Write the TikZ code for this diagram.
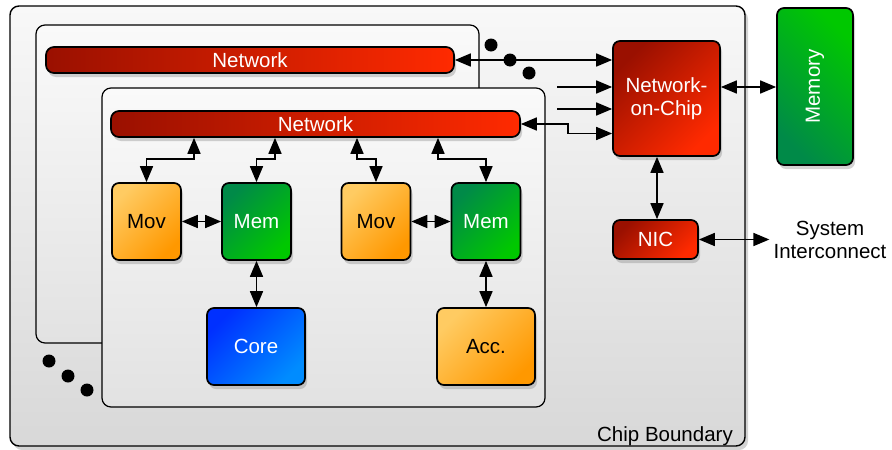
\documentclass[tikz,border=0pt]{standalone}
\usepackage{fontspec}
\setmainfont{Liberation Sans}
\usetikzlibrary{arrows.meta,shadows,calc}
\definecolor{netdark}{HTML}{9A1000}
\definecolor{netlight}{HTML}{FF2A00}
\definecolor{orgl}{HTML}{FFCB62}
\definecolor{orgd}{HTML}{FF9800}
\definecolor{grnd}{HTML}{008A48}
\definecolor{grnl}{HTML}{00C800}
\definecolor{blud}{HTML}{0030FF}
\definecolor{blul}{HTML}{008CFF}
\definecolor{chipt}{HTML}{F8F8F8}
\definecolor{chipb}{HTML}{D8D8D8}
\definecolor{tilet}{HTML}{FAFAFA}
\definecolor{tileb}{HTML}{E2E2E2}
\begin{document}
\begin{tikzpicture}[x=1pt,y=-1pt,
  unit/.style={draw=black,line width=1.7pt,rounded corners=7pt,inner sep=0pt,
    drop shadow={opacity=0.35,shadow xshift=2pt,shadow yshift=-4pt},
    font=\fontsize{20.5}{23}\selectfont},
  chipblock/.style={draw=black,line width=1.4pt,rounded corners=9pt,inner sep=0pt,
    top color=chipt,bottom color=chipb,
    drop shadow={opacity=0.35,shadow xshift=3pt,shadow yshift=-4pt}},
  tileblock/.style={draw=black,line width=1.2pt,rounded corners=9pt,inner sep=0pt,
    top color=tilet,bottom color=tileb},
  netbar/.style={unit,minimum height=26pt,left color=netdark,right color=netlight,text=white,rounded corners=8pt},
  movblock/.style={unit,minimum width=69pt,minimum height=77pt,top color=orgl,bottom color=orgd,shading angle=45,text=black},
  memblock/.style={unit,minimum width=69pt,minimum height=77pt,top color=grnd,bottom color=grnl,shading angle=45,text=white},
  bigblock/.style={unit,minimum width=98pt,minimum height=77pt},
  redblock/.style={unit,top color=netdark,bottom color=netlight,shading angle=45,text=white},
  dbl/.style={line width=1.7pt,{Triangle[length=16pt,width=13pt]}-{Triangle[length=16pt,width=13pt]}},
  one/.style={line width=1.7pt,-{Triangle[length=16pt,width=13pt]}},
  plain/.style={font=\fontsize{20.5}{23}\selectfont,inner sep=2pt}
]
\useasboundingbox (0,0) rectangle (892,450);

% chip and tiles
\node[chipblock,minimum width=735pt,minimum height=440pt] (chip) at (377.5,226) {};
\node[plain,anchor=base east] (cb) at (735,441) {Chip Boundary};
\node[tileblock,minimum width=443pt,minimum height=318pt] (back) at (257.5,184) {};
\node[netbar,minimum width=408pt] (bnet) at (250,60) {Network};
\node[tileblock,minimum width=443pt,minimum height=319pt] (front) at (323.5,247.5) {};
\node[netbar,minimum width=409pt] (fnet) at (315.5,124) {Network};

% tile units
\node[movblock] (mov1) at (146.5,221.5) {Mov};
\node[memblock] (mem1) at (256.5,221.5) {Mem};
\node[movblock] (mov2) at (376,221.5) {Mov};
\node[memblock] (mem2) at (486,221.5) {Mem};
\node[bigblock,top color=blud,bottom color=blul,shading angle=45,text=white] (core) at (256,346.5) {Core};
\node[bigblock,top color=orgl,bottom color=orgd,shading angle=45,text=black] (acc) at (486,346.5) {Acc.};

% right side
\node[redblock,minimum width=107pt,minimum height=115pt,align=center] (noc) at (666.5,98.5) {Network-\\on-Chip};
\node[unit,minimum width=76pt,minimum height=157pt,top color=grnl,bottom color=grnd,shading angle=-45,
  label={[rotate=90,text=white,font=\fontsize{20.5}{23}\selectfont]center:Memory}] (mem) at (815,86.5) {};
\node[redblock,minimum width=85pt,minimum height=39pt] (nic) at (655.5,239.5) {NIC};
\node[plain,align=center] (sys) at (830,240) {System\\Interconnect};

% connectors
\draw[dbl] (bnet.east) -- (bnet.east -| noc.west);
\coordinate (s1) at (557,87);
\coordinate (s2) at (557,109);
\draw[one] (s1) -- (s1 -| noc.west);
\draw[one] (s2) -- (s2 -| noc.west);
\draw[dbl] (fnet.east) -- ++(47,0) |- ($(noc.west)+(0,35)$);

\draw[dbl] (mov1.north) -- ++(0,-23) -| ([xshift=-121.5pt]fnet.south);
\draw[dbl] (mem1.north) -- ++(0,-23) -| ([xshift=-40.5pt]fnet.south);
\draw[dbl] (mov2.north) -- ++(0,-23) -| ([xshift=41.5pt]fnet.south);
\draw[dbl] (mem2.north) -- ++(0,-23) -| ([xshift=122.5pt]fnet.south);

\draw[dbl] (mov1.east) -- (mem1.west);
\draw[dbl] (mov2.east) -- (mem2.west);
\draw[dbl] (mem1.south) -- (mem1.south |- core.north);
\draw[dbl] (mem2.south) -- (acc.north);

\coordinate (nm) at ($(noc.east)+(0,-11.5)$);
\draw[dbl] (nm) -- (nm -| mem.west);
\coordinate (nn) at ([xshift=1.5pt]nic.north);
\draw[dbl] (nn) -- (nn |- noc.south);
\draw[dbl] (nic.east) -- ([xshift=-2pt]sys.west |- nic.east);

% ellipsis dots
\fill (491,45) circle (6.5);
\fill (510,60) circle (6.5);
\fill (529,73) circle (6.5);
\fill (49,361) circle (6.5);
\fill (68,376) circle (6.5);
\fill (87,390) circle (6.5);
\end{tikzpicture}
\end{document}
